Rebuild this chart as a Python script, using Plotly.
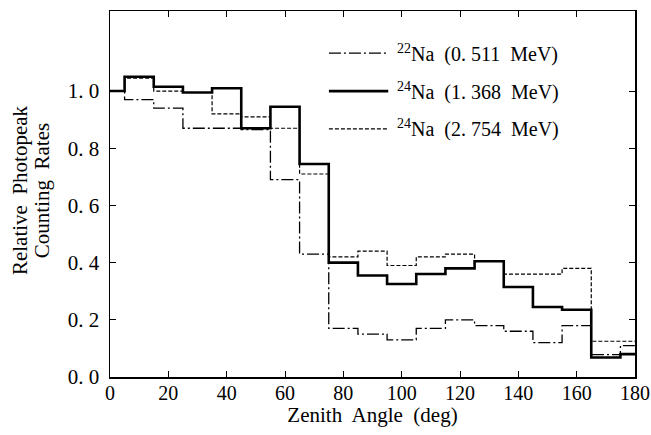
import plotly.graph_objects as go

# ---- data ----
bin_edges = [0, 5, 15, 25, 35, 45, 55, 65, 75, 85, 95, 105, 115, 125, 135, 145, 155, 165, 175, 180]
na22_0511 = [1.00, 0.97, 0.94, 0.87, 0.87, 0.865, 0.69, 0.43, 0.17, 0.15, 0.13, 0.17, 0.20, 0.18, 0.16, 0.12, 0.18, 0.078, 0.11]
na24_1368 = [1.00, 1.05, 1.015, 0.995, 1.01, 0.87, 0.945, 0.745, 0.40, 0.355, 0.325, 0.36, 0.38, 0.405, 0.315, 0.245, 0.235, 0.068, 0.08]
na24_2754 = [1.00, 1.045, 1.00, 0.995, 0.92, 0.91, 0.87, 0.71, 0.42, 0.44, 0.39, 0.42, 0.43, 0.405, 0.36, 0.36, 0.38, 0.125, 0.125]

x_ticks = [0, 20, 40, 60, 80, 100, 120, 140, 160, 180]
y_ticks = [0.0, 0.2, 0.4, 0.6, 0.8, 1.0]
y_tick_labels = ["0. 0", "0. 2", "0. 4", "0. 6", "0. 8", "1. 0"]

series_labels = [
    "<sup>22</sup>Na  (0. 511  MeV)",
    "<sup>24</sup>Na  (1. 368  MeV)",
    "<sup>24</sup>Na  (2. 754  MeV)",
]

FONT = "Liberation Serif"
styles = [
    dict(color="black", width=1.3, dash="12px,3px,2px,3px"),
    dict(color="black", width=2.6, dash="solid"),
    dict(color="black", width=1.2, dash="4px,2px"),
]


def step_y(vals):
    return list(vals) + [vals[-1]]


fig = go.Figure()
for vals, st, name in zip([na22_0511, na24_1368, na24_2754], styles, series_labels):
    fig.add_trace(go.Scatter(
        x=bin_edges, y=step_y(vals), mode="lines", line_shape="hv",
        line=st, name=name, showlegend=False,
    ))

# custom legend (sample line + label), placed in paper coordinates
leg_rows = [0.885, 0.781, 0.678]
for st, name, yy in zip(styles, series_labels, leg_rows):
    fig.add_shape(type="line", xref="paper", yref="paper", x0=0.417, x1=0.530, y0=yy, y1=yy,
                  line=st)
    fig.add_annotation(xref="paper", yref="paper", x=0.543, y=yy, text=name, showarrow=False,
                       xanchor="left", yanchor="middle", font=dict(family=FONT, size=20, color="black"))

# y axis title, two lines
fig.add_annotation(xref="paper", yref="paper", x=-0.170, y=0.51, text="Relative  Photopeak",
                   textangle=-90, showarrow=False, xanchor="center", yanchor="middle",
                   font=dict(family=FONT, size=21, color="black"))
fig.add_annotation(xref="paper", yref="paper", x=-0.128, y=0.51, text="Counting  Rates",
                   textangle=-90, showarrow=False, xanchor="center", yanchor="middle",
                   font=dict(family=FONT, size=21, color="black"))

axis_common = dict(
    showgrid=False, zeroline=False, showline=True, linecolor="black", linewidth=1.5,
    mirror="ticks", ticks="inside", ticklen=6, tickwidth=1, tickcolor="black",
)
fig.update_xaxes(range=[0, 180], tickvals=x_ticks, ticklabelstandoff=-3,
                 tickfont=dict(family=FONT, size=20, color="black"), **axis_common,
                 title=dict(text="Zenith  Angle  (deg)", font=dict(family=FONT, size=21, color="black"),
                            standoff=0))
fig.update_yaxes(range=[0, 1.28], tickvals=y_ticks, ticktext=y_tick_labels, ticklabelstandoff=5,
                 tickfont=dict(family=FONT, size=21, color="black"), **axis_common)

fig.update_layout(
    width=651, height=435,
    margin=dict(l=110, r=16, t=11, b=58, autoexpand=False),
    paper_bgcolor="white", plot_bgcolor="white",
    font=dict(family=FONT, color="black"),
)

fig.write_html("out.html",
               config={"displayModeBar": False, "staticPlot": True},
               post_script="document.body.style.margin='0';document.body.style.overflow='hidden';")
